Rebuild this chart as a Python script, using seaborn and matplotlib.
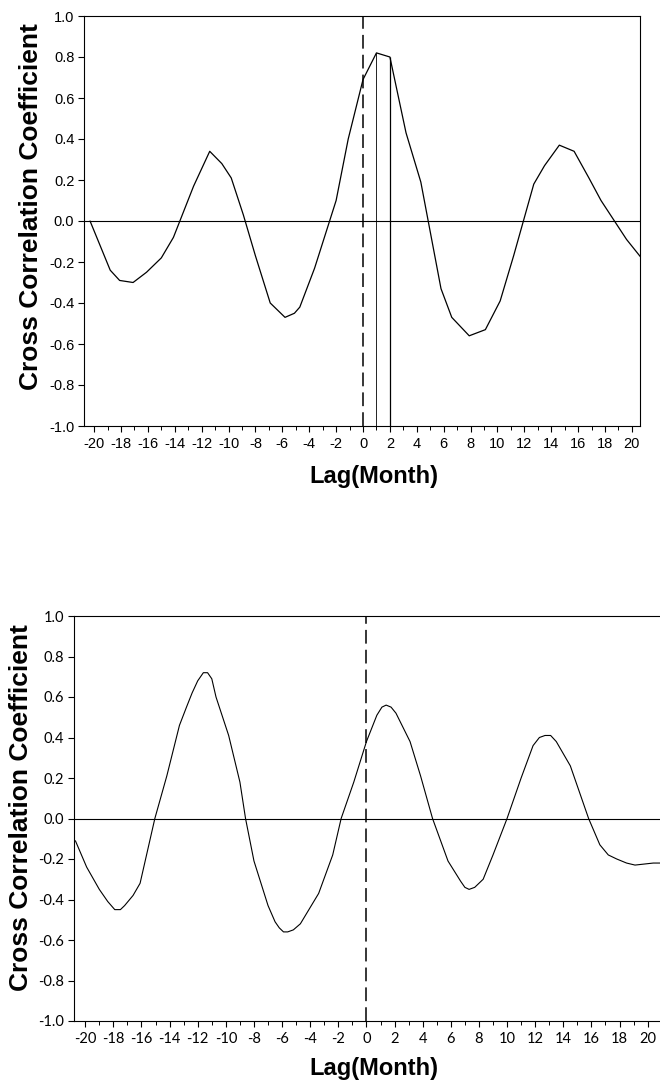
import matplotlib
matplotlib.use("Agg")
import matplotlib.pyplot as plt
import seaborn as sns
import numpy as np
from matplotlib.ticker import MultipleLocator

# upper panel: cross correlation vs lag (vertices)
top_lag = [-20.3, -18.8, -18.1, -17.1, -16.1, -15.0, -14.1, -12.6, -11.4, -10.5,
           -9.8, -8.9, -8.0, -6.9, -5.8, -5.1, -4.7, -3.6, -2.0, -1.1,
           0.0, 1.0, 2.0, 3.2, 4.3, 5.8, 6.6, 7.9, 9.1, 10.2,
           11.2, 12.7, 13.5, 14.6, 15.7, 16.8, 17.7, 19.6, 20.7]
top_val = [0.00, -0.24, -0.29, -0.30, -0.25, -0.18, -0.08, 0.17, 0.34, 0.28,
           0.21, 0.03, -0.17, -0.40, -0.47, -0.45, -0.42, -0.23, 0.10, 0.40,
           0.69, 0.82, 0.80, 0.43, 0.19, -0.33, -0.47, -0.56, -0.53, -0.39,
           -0.17, 0.18, 0.27, 0.37, 0.34, 0.21, 0.10, -0.09, -0.18]
top_marks = [1, 2]          # solid vertical markers
top_mark_val = [0.82, 0.80]

# lower panel (smooth curve, dense readings)
bot_lag = [-20.7, -19.9, -19.0, -18.4, -17.9, -17.5, -17.2, -16.6, -16.1, -15.05,
           -14.2, -13.3, -12.8, -12.4, -12.0, -11.6, -11.3, -11.0, -10.7, -9.8,
           -9.0, -8.6, -8.0, -7.0, -6.5, -6.2, -5.9, -5.6, -5.2, -4.7,
           -3.4, -2.4, -1.8, -0.9, 0.0, 0.74, 1.1, 1.4, 1.75, 2.1,
           3.1, 3.85, 4.7, 5.8, 6.7, 7.0, 7.3, 7.7, 8.3, 9.0,
           10.0, 11.0, 11.85, 12.3, 12.7, 13.1, 13.5, 14.5, 15.4, 15.8,
           16.6, 17.2, 17.8, 18.5, 19.1, 20.4, 21.5]
bot_val = [-0.11, -0.24, -0.35, -0.41, -0.45, -0.45, -0.43, -0.38, -0.32, 0.00,
           0.21, 0.46, 0.55, 0.62, 0.68, 0.72, 0.72, 0.69, 0.60, 0.41,
           0.18, 0.00, -0.21, -0.43, -0.51, -0.54, -0.56, -0.56, -0.55, -0.52,
           -0.37, -0.18, 0.00, 0.18, 0.38, 0.51, 0.55, 0.56, 0.55, 0.52,
           0.38, 0.21, 0.00, -0.21, -0.31, -0.34, -0.35, -0.34, -0.30, -0.18,
           0.00, 0.20, 0.36, 0.40, 0.41, 0.41, 0.38, 0.26, 0.08, 0.00,
           -0.13, -0.18, -0.20, -0.22, -0.23, -0.22, -0.22]

x_ticks = list(range(-20, 21, 2))
y_ticks = [-1.0, -0.8, -0.6, -0.4, -0.2, 0.0, 0.2, 0.4, 0.6, 0.8, 1.0]

sns.set_theme(style="white")
plt.rcParams['font.family'] = ['Liberation Sans', 'DejaVu Sans']
plt.rcParams['text.color'] = 'black'

W, H = 660, 1084
fig = plt.figure(figsize=(W / 100, H / 100), dpi=100)

def px_axes(l, r, t, b):
    return fig.add_axes([l / W, 1 - b / H, (r - l) / W, (b - t) / H])

ax1 = px_axes(84, 640, 16, 426)
ax2 = px_axes(74, 680, 616, 1021)

def style(ax, xlim, tickfont, size):
    ax.set_xlim(*xlim)
    ax.set_ylim(-1.0, 1.0)
    ax.set_xticks(x_ticks)
    ax.xaxis.set_minor_locator(MultipleLocator(1))
    ax.set_yticks(y_ticks)
    ax.set_yticklabels([f"{v:.1f}" for v in y_ticks])
    ax.set_xticklabels([str(v) for v in x_ticks])
    ax.tick_params(axis='both', which='major', direction='out', length=4,
                   width=0.8, color='black', labelsize=size, pad=3)
    ax.tick_params(axis='x', which='minor', direction='out', length=3,
                   width=0.7, color='black', bottom=True)
    ax.tick_params(axis='y', left=True)
    ax.tick_params(axis='x', bottom=True, pad=4)
    for lab in ax.get_xticklabels() + ax.get_yticklabels():
        lab.set_family(tickfont)
        lab.set_color('black')
    for s in ax.spines.values():
        s.set_color('black')
        s.set_linewidth(0.8)
    ax.set_xlabel('')
    ax.set_ylabel('')

# upper
sns.lineplot(x=top_lag, y=top_val, ax=ax1, color='black', linewidth=0.9)
ax1.axhline(0, color='black', linewidth=0.8)
ax1.axvline(0, color='black', linewidth=1.1, linestyle=(0, (9, 4)))
ax1.vlines(top_marks, -1.0, top_mark_val, color='black', linewidth=[0.6, 0.9])
style(ax1, (-20.75, 20.6), ['Liberation Sans Narrow', 'Liberation Sans'], 10.5)

# lower
sns.lineplot(x=bot_lag, y=bot_val, ax=ax2, color='black', linewidth=0.8)
ax2.axhline(0, color='black', linewidth=0.8)
ax2.axvline(0, color='black', linewidth=1.1, linestyle=(0, (9, 4)))
style(ax2, (-20.8, 22.3), ['Lato', 'DejaVu Sans'], 10.5)
ax2.spines['right'].set_visible(False)

# axis titles
for yc, xc in [(207, 31), (808, 21)]:
    fig.text(xc / W, 1 - yc / H, 'Cross Correlation Coefficient', rotation=90,
             ha='center', va='center', fontsize=19, fontweight='bold',
             color='black')
for yc in [477, 1068]:
    fig.text(374 / W, 1 - yc / H, 'Lag(Month)', ha='center', va='center',
             fontsize=17, fontweight='bold', color='black')

fig.savefig('out.png', dpi=100)
